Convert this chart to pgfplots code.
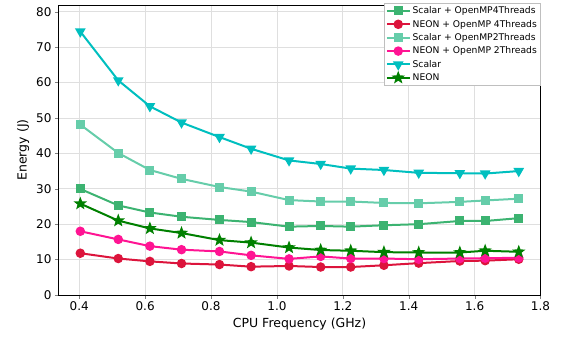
\documentclass[border=0pt]{standalone}
\usepackage{fontspec}
\setmainfont{DejaVu Sans}
\usepackage{pgfplots}
\pgfplotsset{compat=1.18}
\definecolor{cS4}{HTML}{3CB371}
\definecolor{cN4}{HTML}{DC143C}
\definecolor{cS2}{HTML}{66CDAA}
\definecolor{cN2}{HTML}{FF1493}
\definecolor{cS}{HTML}{00BFBF}
\definecolor{cN}{HTML}{008000}
\pgfdeclareplotmark{fstar}{%
  \pgfpathmoveto{\pgfpointpolar{90}{\pgfplotmarksize}}%
  \pgfpathlineto{\pgfpointpolar{126}{0.42\pgfplotmarksize}}%
  \pgfpathlineto{\pgfpointpolar{162}{\pgfplotmarksize}}%
  \pgfpathlineto{\pgfpointpolar{198}{0.42\pgfplotmarksize}}%
  \pgfpathlineto{\pgfpointpolar{234}{\pgfplotmarksize}}%
  \pgfpathlineto{\pgfpointpolar{270}{0.42\pgfplotmarksize}}%
  \pgfpathlineto{\pgfpointpolar{306}{\pgfplotmarksize}}%
  \pgfpathlineto{\pgfpointpolar{342}{0.42\pgfplotmarksize}}%
  \pgfpathlineto{\pgfpointpolar{18}{\pgfplotmarksize}}%
  \pgfpathlineto{\pgfpointpolar{54}{0.42\pgfplotmarksize}}%
  \pgfpathclose
  \pgfusepathqfillstroke}
\begin{document}
\begin{tikzpicture}
\begin{axis}[
  scale only axis,
  width=482pt, height=290pt,
  xmin=0.337, xmax=1.8, ymin=0, ymax=81.9,
  xtick={0.4,0.6,...,1.8}, ytick={0,10,...,80},
  xticklabel style={/pgf/number format/.cd,fixed,fixed zerofill,precision=1},
  /pgf/number format/assume math mode=true,
  tick label style={font=\fontsize{12}{14}\selectfont},
  label style={font=\fontsize{12.5}{15}\selectfont},
  xlabel={CPU Frequency (GHz)}, ylabel={Energy (J)},
  grid=major, grid style={gray!25, line width=0.8pt},
  tick align=outside, tick pos=left,
  major tick length=3.5pt,
  axis line style={line width=0.8pt},
  legend style={at={(1,1.007)}, anchor=north east, font=\fontsize{9.2}{10.5}\selectfont,
    draw=gray!50, row sep=0.9pt, inner sep=1.5pt},
  legend cell align=left,
  legend image code/.code={\draw[line width=2pt,mark repeat=2,mark phase=2] plot coordinates {(0cm,0cm)(0.4cm,0cm)(0.8cm,0cm)};},
  every axis plot/.append style={line width=2pt, mark size=3.7pt},
]
\addplot[color=cS4, mark=square*, mark size=3.5pt] coordinates {
(0.4032,29.95)(0.5184,25.3)(0.6144,23.3)(0.7104,22.1)(0.8256,21.2)(0.9216,20.6)(1.0368,19.3)
(1.1328,19.5)(1.224,19.3)(1.3248,19.7)(1.4304,20.0)(1.5552,20.9)(1.632,20.9)(1.734,21.7)};
\addlegendentry{Scalar + OpenMP4Threads}
\addplot[color=cN4, mark=*] coordinates {
(0.4032,11.8)(0.5184,10.3)(0.6144,9.5)(0.7104,8.9)(0.8256,8.6)(0.9216,8.0)(1.0368,8.2)
(1.1328,7.9)(1.224,7.9)(1.3248,8.4)(1.4304,9.0)(1.5552,9.6)(1.632,9.7)(1.734,10.1)};
\addlegendentry{NEON + OpenMP 4Threads}
\addplot[color=cS2, mark=square*, mark size=3.5pt] coordinates {
(0.4032,48.1)(0.5184,40.1)(0.6144,35.3)(0.7104,32.8)(0.8256,30.5)(0.9216,29.2)(1.0368,26.8)
(1.1328,26.4)(1.224,26.4)(1.3248,26.0)(1.4304,25.9)(1.5552,26.3)(1.632,26.7)(1.734,27.2)};
\addlegendentry{Scalar + OpenMP2Threads}
\addplot[color=cN2, mark=*] coordinates {
(0.4032,18.0)(0.5184,15.7)(0.6144,13.8)(0.7104,12.8)(0.8256,12.3)(0.9216,11.2)(1.0368,10.2)
(1.1328,10.9)(1.224,10.3)(1.3248,10.3)(1.4304,10.1)(1.5552,10.3)(1.632,10.4)(1.734,10.5)};
\addlegendentry{NEON + OpenMP 2Threads}
\addplot[color=cS, mark=triangle*, mark size=4.2pt, mark options={rotate=180}] coordinates {
(0.4032,74.4)(0.5184,60.6)(0.6144,53.3)(0.7104,48.7)(0.8256,44.6)(0.9216,41.3)(1.0368,38.0)
(1.1328,37.0)(1.224,35.7)(1.3248,35.3)(1.4304,34.5)(1.5552,34.4)(1.632,34.3)(1.734,35.0)};
\addlegendentry{Scalar}
\addplot[color=cN, mark=fstar, mark size=4.2pt] coordinates {
(0.4032,25.8)(0.5184,21.0)(0.6144,18.8)(0.7104,17.5)(0.8256,15.5)(0.9216,14.8)(1.0368,13.4)
(1.1328,12.7)(1.224,12.5)(1.3248,12.1)(1.4304,12.0)(1.5552,12.0)(1.632,12.5)(1.734,12.2)};
\addlegendentry{NEON}
\end{axis}
\path ([shift={(-58.5pt,-46.3pt)}]current axis.south west) rectangle ([shift={(21.5pt,5pt)}]current axis.north east);
\end{tikzpicture}
\end{document}
